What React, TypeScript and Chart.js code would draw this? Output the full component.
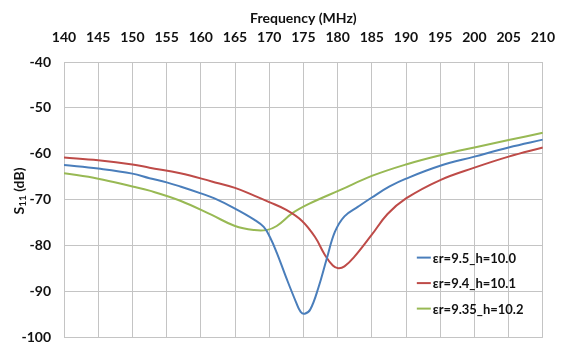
import React, { useEffect, useRef } from 'react';
import { Chart, registerables } from 'chart.js';

Chart.register(...registerables);

// Frequency (MHz) samples and S11 (dB) values for each curve
const blueFreq = [140, 145, 150, 152.5, 155, 157, 160, 162, 165, 167.8, 169.2, 170.1, 171.1, 172.5, 173.9, 174.6, 175.2, 176, 177.2, 178.4, 179.6, 181, 183, 185, 187.6, 190, 195, 200, 205, 210];
const blueS11 = [-62.4, -63.2, -64.3, -65.3, -66.2, -67.1, -68.6, -69.7, -71.9, -74.3, -75.9, -78.1, -81.5, -87.0, -92.2, -94.4, -94.8, -93.9, -89.1, -82.9, -77.0, -73.6, -71.5, -69.5, -67.1, -65.4, -62.6, -60.6, -58.6, -56.9];

const redFreq = [140, 145, 150, 152.5, 157, 161.6, 165, 167.8, 170, 172.5, 174.8, 176.7, 178.1, 179.3, 180.1, 181, 182.4, 185, 187.3, 190, 195, 200, 205, 210];
const redS11 = [-60.8, -61.4, -62.3, -63.0, -64.2, -66.0, -67.4, -69.1, -70.5, -72.2, -74.6, -78.1, -81.9, -84.3, -84.9, -84.5, -82.5, -77.6, -73.1, -69.7, -65.7, -63.0, -60.6, -58.6];

const greenFreq = [140, 145, 150, 152.5, 157, 161.6, 165, 167.8, 169.6, 171.1, 173.4, 175.8, 180.5, 185, 190, 195, 200, 205, 210];
const greenS11 = [-64.2, -65.4, -67.1, -68.0, -70.2, -73.3, -75.7, -76.6, -76.6, -75.7, -72.9, -70.9, -67.8, -64.8, -62.3, -60.3, -58.6, -57.0, -55.4];

const seriesLabels = ['εr=9.5_h=10.0', 'εr=9.4_h=10.1', 'εr=9.35_h=10.2'];
const seriesColors = ['#4a7ebb', '#be4b48', '#98b954'];

const xTitle = 'Frequency (MHz)';
const xMin = 140, xMax = 210, xStep = 5;
const yMin = -100, yMax = -40, yStep = 10;

const FONT = 'Lato, "Open Sans", sans-serif';

const toPoints = (xs: number[], ys: number[]) => xs.map((x, i) => ({ x, y: ys[i] }));

const insideLegend = {
  id: 'insideLegend',
  afterDraw(chart: any) {
    const { ctx, chartArea } = chart;
    ctx.save();
    ctx.font = `bold 13px ${FONT}`;
    ctx.textBaseline = 'middle';
    ctx.textAlign = 'left';
    chart.data.datasets.forEach((ds: any, i: number) => {
      const y = chartArea.bottom - 80 + i * 25.5;
      const x0 = chartArea.right - 126;
      ctx.strokeStyle = ds.borderColor;
      ctx.lineWidth = 2;
      ctx.beginPath();
      ctx.moveTo(x0, y);
      ctx.lineTo(x0 + 14, y);
      ctx.stroke();
      ctx.fillStyle = '#111';
      ctx.fillText(ds.label, x0 + 16, y + 1);
    });
    ctx.restore();
  },
};

const yTitlePlugin = {
  id: 'yTitlePlugin',
  afterDraw(chart: any) {
    const { ctx } = chart;
    ctx.save();
    ctx.translate(19, 191);
    ctx.rotate(-Math.PI / 2);
    ctx.fillStyle = '#111';
    ctx.textBaseline = 'middle';
    ctx.textAlign = 'left';
    const big = `bold 14px ${FONT}`;
    const small = `bold 10px ${FONT}`;
    ctx.font = big;
    const wS = ctx.measureText('S').width;
    ctx.font = small;
    const w11 = ctx.measureText('11').width;
    ctx.font = big;
    const wRest = ctx.measureText(' (dB)').width;
    const total = wS + w11 + wRest;
    let x = -total / 2;
    ctx.font = big;
    ctx.fillText('S', x, 0);
    x += wS;
    ctx.font = small;
    ctx.fillText('11', x, 4);
    x += w11;
    ctx.font = big;
    ctx.fillText(' (dB)', x, 0);
    ctx.restore();
  },
};

export default function App() {
  const canvasRef = useRef<HTMLCanvasElement | null>(null);

  useEffect(() => {
    if (!canvasRef.current) return;
    const mk = (i: number, xs: number[], ys: number[]) => ({
      label: seriesLabels[i],
      data: toPoints(xs, ys),
      borderColor: seriesColors[i],
      backgroundColor: seriesColors[i],
      borderWidth: 2,
      pointRadius: 0,
      tension: 0.4,
      fill: false,
    });
    const chart = new Chart(canvasRef.current, {
      type: 'line',
      data: {
        datasets: [mk(0, blueFreq, blueS11), mk(1, redFreq, redS11), mk(2, greenFreq, greenS11)],
      },
      options: {
        animation: false,
        responsive: true,
        maintainAspectRatio: false,
        layout: { padding: { left: 0, top: 0, right: 13, bottom: 6 } },
        plugins: { legend: { display: false }, tooltip: { enabled: false } },
        scales: {
          x: {
            type: 'linear',
            position: 'top',
            min: xMin,
            max: xMax,
            ticks: { stepSize: xStep, color: '#111', font: { family: FONT, size: 14, weight: 'bold' }, padding: 16, maxRotation: 0 },
            grid: { color: '#c4c4c4', drawTicks: false, lineWidth: 1 },
            border: { color: '#c4c4c4' },
            title: { display: true, text: xTitle, color: '#111', font: { family: FONT, size: 14, weight: 'bold' }, padding: { top: 10, bottom: 0 } },
            afterFit: (s: any) => { s.height = 62; },
          },
          y: {
            type: 'linear',
            min: yMin,
            max: yMax,
            ticks: { stepSize: yStep, color: '#111', font: { family: FONT, size: 14, weight: 'bold' }, padding: 13 },
            grid: { color: '#c4c4c4', drawTicks: false, lineWidth: 1 },
            border: { color: '#c4c4c4' },
            afterFit: (s: any) => { s.width = 64; },
          },
        },
      },
      plugins: [insideLegend, yTitlePlugin],
    });
    return () => chart.destroy();
  }, []);

  return (
    <div style={{ position: 'fixed', left: 0, top: 0, width: 571, height: 359, background: '#fff' }}>
      <canvas ref={canvasRef} />
    </div>
  );
}
